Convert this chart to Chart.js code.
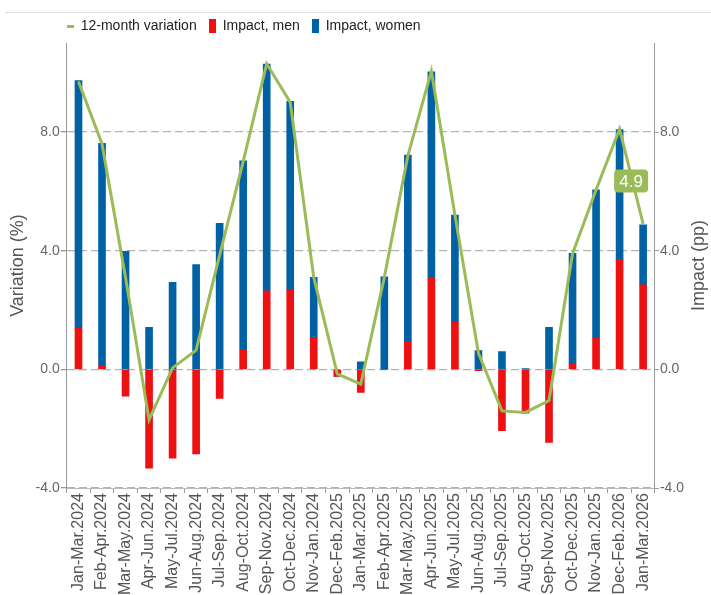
<!DOCTYPE html>
<html>
<head>
<meta charset="utf-8">
<script src="https://cdn.jsdelivr.net/npm/chart.js@4.4.1/dist/chart.umd.min.js"></script>
<style>
  html, body { margin: 0; padding: 0; background: #fff; }
  #wrap { position: relative; width: 711px; height: 595px; }
  #topline { position: absolute; left: 5px; right: 0; top: 12px; border-top: 1px solid #ddd; }
</style>
</head>
<body>
<div id="wrap">
  <div id="topline"></div>
  <canvas id="chart" width="711" height="595"></canvas>
</div>
<script>
const categories = [
  "Jan-Mar.2024", "Feb-Apr.2024", "Mar-May.2024", "Apr-Jun.2024", "May-Jul.2024",
  "Jun-Aug.2024", "Jul-Sep.2024", "Aug-Oct.2024", "Sep-Nov.2024", "Oct-Dec.2024",
  "Nov-Jan.2024", "Dec-Feb.2025", "Jan-Mar.2025", "Feb-Apr.2025", "Mar-May.2025",
  "Apr-Jun.2025", "May-Jul.2025", "Jun-Aug.2025", "Jul-Sep.2025", "Aug-Oct.2025",
  "Sep-Nov.2025", "Oct-Dec.2025", "Nov-Jan.2025", "Dec-Feb.2026", "Jan-Mar.2026",
];

// 12-month variation (%)
const variation = [
  9.7, 7.6, 3.1, -1.7, 0.05, 0.65, 3.85, 7.0, 10.3, 9.0, 3.1, -0.15, -0.5,
  3.1, 7.2, 10.05, 5.2, 0.55, -1.4, -1.45, -1.05, 3.9, 6.05, 8.1, 4.9,
];

// impact in percentage points
const impactMen = [
  1.38, 0.1, -0.9, -3.33, -2.99, -2.85, -0.98, 0.66, 2.65, 2.69, 1.06, -0.24, -0.78,
  0, 0.93, 3.07, 1.61, -0.04, -2.07, -1.48, -2.46, 0.18, 1.05, 3.68, 2.85,
];
const impactWomen = [
  8.35, 7.52, 3.98, 1.42, 2.93, 3.53, 4.92, 6.37, 7.64, 6.34, 2.04, 0, 0.25,
  3.12, 6.29, 6.96, 3.59, 0.63, 0.6, 0.03, 1.42, 3.73, 5.0, 4.4, 2.02,
];

const yMin = -4;
const yMax = 11;
const yStep = 4;

const GREEN = "#9bbb59";
const RED = "#ee1111";
const BLUE = "#0062a4";
const FONT = '"Liberation Sans", Arial, sans-serif';

Chart.defaults.font.family = FONT;

const legendMark = (color, w, h) => {
  const c = document.createElement("canvas");
  c.width = w;
  c.height = h;
  const g = c.getContext("2d");
  g.fillStyle = color;
  g.fillRect(0, 0, w, h);
  return c;
};

// green box with the last value of the line
const lastValueLabel = {
  id: "lastValueLabel",
  afterDatasetsDraw(chart) {
    const meta = chart.getDatasetMeta(0);
    const pt = meta.data[meta.data.length - 1];
    const ctx = chart.ctx;
    const w = 34, h = 23;
    const cx = pt.x - 12, cy = pt.y - 43;
    ctx.save();
    ctx.fillStyle = GREEN;
    ctx.beginPath();
    ctx.roundRect(cx - w / 2, cy - h / 2, w, h, 4);
    ctx.fill();
    ctx.fillStyle = "#fff";
    ctx.font = "17px " + FONT;
    ctx.textAlign = "center";
    ctx.textBaseline = "middle";
    ctx.fillText(variation[variation.length - 1].toFixed(1), cx, cy + 1);
    ctx.restore();
  },
};

// right axis title reads bottom-to-top like the left one
const rightTitle = {
  id: "rightTitle",
  afterDraw(chart) {
    const s = chart.scales.y1;
    const ctx = chart.ctx;
    ctx.save();
    ctx.translate(s.right - 12, (chart.chartArea.top + chart.chartArea.bottom) / 2);
    ctx.rotate(-Math.PI / 2);
    ctx.fillStyle = "#555";
    ctx.font = "18px " + FONT;
    ctx.textAlign = "center";
    ctx.textBaseline = "middle";
    ctx.fillText("Impact (pp)", 0, 0);
    ctx.restore();
  },
};

// legend starts at the left edge of the plot
const legendShift = {
  id: "legendShift",
  afterLayout(chart) {
    chart.legend.left -= 12;
    chart.legend.right -= 12;
  },
};

const tickFmt = (v) => v.toFixed(1);

new Chart(document.getElementById("chart").getContext("2d"), {
  data: {
    labels: categories,
    datasets: [
      {
        type: "line",
        label: "12-month variation",
        data: variation,
        yAxisID: "y",
        borderColor: GREEN,
        backgroundColor: GREEN,
        borderWidth: 3,
        pointRadius: 0,
        pointHoverRadius: 0,
        tension: 0,
        pointStyle: legendMark(GREEN, 7, 3),
      },
      {
        type: "bar",
        label: "Impact, men",
        data: impactMen,
        yAxisID: "y1",
        backgroundColor: RED,
        barThickness: 7,
        pointStyle: legendMark(RED, 7, 14),
      },
      {
        type: "bar",
        label: "Impact, women",
        data: impactWomen,
        yAxisID: "y1",
        backgroundColor: BLUE,
        barThickness: 7,
        pointStyle: legendMark(BLUE, 7, 14),
      },
    ],
  },
  options: {
    responsive: false,
    animation: false,
    layout: { padding: { top: 7, left: 5, right: 0, bottom: 0 } },
    plugins: {
      legend: {
        position: "top",
        align: "start",
        fullSize: false,
        labels: {
          usePointStyle: true,
          boxWidth: 7,
          boxHeight: 14,
          pointStyleWidth: 7,
          padding: 12,
          color: "#222",
          font: { size: 14 },
        },
      },
      tooltip: { enabled: false },
    },
    scales: {
      x: {
        stacked: true,
        grid: { drawOnChartArea: false, drawTicks: true, tickLength: 5, tickColor: "#999" },
        border: { display: true, color: "#bbb" },
        ticks: {
          autoSkip: false,
          maxRotation: 90,
          minRotation: 90,
          padding: 0,
          color: "#555",
          font: { size: 16 },
        },
      },
      y: {
        position: "left",
        min: yMin,
        max: yMax,
        ticks: {
          stepSize: yStep,
          includeBounds: false,
          callback: tickFmt,
          color: "#666",
          font: { size: 14 },
          padding: 1,
        },
        grid: { color: "#b3b3b3", lineWidth: 1.3, tickLength: 6, tickColor: "#999", tickBorderDash: [] },
        border: { display: true, color: "#999", dash: [8, 4] },
        title: {
          display: true,
          text: "Variation (%)",
          color: "#555",
          font: { size: 18 },
          padding: { top: 2, bottom: 6 },
        },
      },
      y1: {
        position: "right",
        stacked: true,
        min: yMin,
        max: yMax,
        afterFit(scale) {
          scale.width += 26;
        },
        ticks: {
          stepSize: yStep,
          includeBounds: false,
          callback: tickFmt,
          color: "#666",
          font: { size: 14 },
          padding: 1,
        },
        grid: { drawOnChartArea: false, drawTicks: true, tickLength: 4, tickColor: "#999" },
        border: { display: true, color: "#999" },
      },
    },
  },
  plugins: [lastValueLabel, rightTitle, legendShift],
});
</script>
</body>
</html>
